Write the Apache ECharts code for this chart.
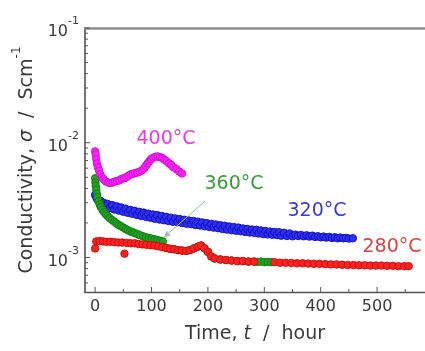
<!DOCTYPE html>
<html>
<head>
<meta charset="utf-8">
<script src="https://cdn.jsdelivr.net/npm/echarts@6/dist/echarts.min.js"></script>
<style>
  html, body { margin: 0; padding: 0; background: #ffffff; }
  #chart { width: 425px; height: 351px; }
</style>
</head>
<body>
<div id="chart"></div>
<script>
// Conductivity vs. time at four temperatures (values in 10^-3 S/cm)
const hours400 = [0, 1, 2, 3, 5, 7, 9, 12, 15, 19, 23, 27, 31, 35, 39, 43, 47, 51, 55, 59, 63, 67, 71, 75, 79, 83, 87, 90, 93, 96, 99, 103, 107, 111, 115, 119, 123, 127, 131, 135, 139, 144, 149, 154];
const sigma400 = [8.4, 7.9, 7.2, 6.6, 6.1, 5.7, 5.3, 5.0, 4.8, 4.6, 4.5, 4.45, 4.5, 4.6, 4.65, 4.7, 4.85, 4.9, 5.0, 5.15, 5.3, 5.35, 5.45, 5.5, 5.6, 5.75, 6.0, 6.3, 6.6, 6.9, 7.2, 7.4, 7.55, 7.6, 7.5, 7.35, 7.1, 6.9, 6.6, 6.4, 6.1, 5.9, 5.6, 5.4];

const hours360 = [0, 0.5, 1, 2, 3, 4, 6, 8, 10, 13, 16, 19, 22, 26, 30, 34, 38, 42, 46, 50, 54, 58, 62, 66, 70, 75, 80, 85, 90, 95, 100, 105, 110, 115, 120, 126, 133, 140, 147, 154, 161, 168, 175, 182, 188, 194, 200, 206, 212, 222, 232, 242, 252, 262, 272, 282, 288, 294, 300, 306, 312];
const sigma360 = [4.9, 4.5, 4.2, 3.9, 3.6, 3.35, 3.1, 2.9, 2.75, 2.6, 2.48, 2.38, 2.3, 2.2, 2.12, 2.05, 1.98, 1.92, 1.87, 1.82, 1.77, 1.73, 1.69, 1.66, 1.63, 1.6, 1.56, 1.53, 1.5, 1.48, 1.46, 1.44, 1.42, 1.4, 1.38, 1.21, 1.19, 1.18, 1.16, 1.15, 1.14, 1.16, 1.2, 1.24, 1.27, 1.2, 1.12, 1.02, 0.98, 0.96, 0.95, 0.94, 0.93, 0.93, 0.92, 0.92, 0.915, 0.92, 0.91, 0.915, 0.91];

const hours320 = [0, 2, 4, 6, 9, 12, 15, 18, 22, 26, 30, 34, 38, 42, 46, 50, 54, 58, 62, 66, 70, 74, 78, 82, 86, 90, 94, 98, 102, 106, 110, 114, 118, 122, 126, 130, 134, 138, 142, 146, 150, 154, 158, 162, 166, 170, 174, 178, 182, 186, 190, 194, 198, 202, 206, 210, 214, 218, 222, 226, 230, 234, 238, 242, 246, 250, 254, 258, 262, 266, 270, 274, 278, 282, 286, 290, 294, 298, 302, 306, 310, 314, 318, 322, 326, 330, 335, 340, 345, 350, 355, 360, 365, 370, 375, 380, 385, 390, 395, 400, 405, 410, 415, 420, 425, 430, 435, 440, 445, 450, 457];
const sigma320 = [3.5, 3.35, 3.2, 3.1, 3.12, 2.84, 3.0, 2.76, 2.93, 2.69, 2.86, 2.62, 2.79, 2.56, 2.73, 2.5, 2.66, 2.45, 2.6, 2.4, 2.55, 2.35, 2.5, 2.3, 2.46, 2.26, 2.41, 2.22, 2.37, 2.18, 2.34, 2.14, 2.3, 2.11, 2.26, 2.08, 2.22, 2.05, 2.19, 2.03, 2.16, 2.0, 2.13, 1.97, 2.1, 1.95, 2.08, 1.92, 2.05, 1.9, 2.02, 1.87, 1.99, 1.85, 1.96, 1.82, 1.94, 1.8, 1.91, 1.77, 1.89, 1.75, 1.86, 1.73, 1.84, 1.71, 1.82, 1.69, 1.79, 1.67, 1.77, 1.65, 1.75, 1.64, 1.74, 1.62, 1.72, 1.6, 1.7, 1.59, 1.68, 1.58, 1.67, 1.57, 1.66, 1.55, 1.64, 1.54, 1.62, 1.53, 1.58, 1.54, 1.57, 1.53, 1.56, 1.52, 1.55, 1.51, 1.53, 1.5, 1.52, 1.49, 1.51, 1.48, 1.5, 1.47, 1.49, 1.47, 1.48, 1.46, 1.47];

const hours280 = [0, 2, 8, 14, 20, 27, 34, 41, 48, 52, 56, 63, 70, 77, 84, 91, 98, 105, 112, 119, 126, 133, 140, 147, 154, 161, 168, 175, 182, 188, 194, 200, 206, 212, 222, 232, 242, 252, 262, 272, 282, 318, 328, 338, 348, 358, 368, 378, 388, 398, 408, 418, 428, 438, 448, 458, 468, 478, 488, 498, 508, 518, 528, 538, 548, 556];
const sigma280 = [1.2, 1.38, 1.39, 1.38, 1.37, 1.37, 1.36, 1.35, 1.35, 1.08, 1.34, 1.33, 1.33, 1.31, 1.3, 1.29, 1.28, 1.27, 1.25, 1.23, 1.21, 1.19, 1.18, 1.16, 1.15, 1.14, 1.16, 1.2, 1.24, 1.27, 1.2, 1.12, 1.02, 0.98, 0.96, 0.95, 0.94, 0.93, 0.93, 0.92, 0.92, 0.91, 0.9, 0.9, 0.895, 0.89, 0.89, 0.885, 0.88, 0.88, 0.875, 0.87, 0.87, 0.865, 0.86, 0.86, 0.855, 0.855, 0.85, 0.85, 0.85, 0.845, 0.845, 0.84, 0.84, 0.84];

// axis ticks
const xMajorTicks = [0, 100, 200, 300, 400, 500];
const xMinorTicks = [50, 150, 250, 350, 450, 550];
const yMajorTicks = [0.001, 0.01, 0.1];
const yMinorTicks = [0.0006, 0.0007, 0.0008, 0.0009, 0.002, 0.003, 0.004, 0.005, 0.006, 0.007, 0.008, 0.009, 0.02, 0.03, 0.04, 0.05, 0.06, 0.07, 0.08, 0.09];

const FONT = "'DejaVu Sans', sans-serif";
const TXT = '#3a3a3a';
const TICK = '#555555';
const X_MIN = -18, X_MAX = 585, Y_MIN = 0.0005, Y_MAX = 0.1;

function pairs(hours, milli) {
  return hours.map((h, i) => [h, milli[i] * 1e-3]);
}

function dotSeries(name, hours, milli, fill, edge) {
  return {
    name: name,
    type: 'scatter',
    xAxisIndex: 0,
    yAxisIndex: 0,
    symbol: 'circle',
    symbolSize: 7.5,
    itemStyle: { color: fill, borderColor: edge, borderWidth: 0.9, opacity: 1 },
    emphasis: { disabled: true },
    data: pairs(hours, milli)
  };
}

// inward tick marks drawn from the axis scales
function yTickSeries(values, len) {
  return {
    type: 'custom', silent: true, clip: false, z: 5,
    xAxisIndex: 0, yAxisIndex: 0,
    encode: { x: 0, y: 1 },
    data: values.map(v => [X_MIN, v]),
    renderItem: function (params, api) {
      const p = api.coord([api.value(0), api.value(1)]);
      return { type: 'line', shape: { x1: p[0], y1: p[1], x2: p[0] + len, y2: p[1] }, style: { stroke: TICK, lineWidth: 1 } };
    }
  };
}
function xTickSeries(values, len) {
  return {
    type: 'custom', silent: true, clip: false, z: 5,
    xAxisIndex: 0, yAxisIndex: 0,
    encode: { x: 0, y: 1 },
    data: values.map(v => [v, Y_MIN]),
    renderItem: function (params, api) {
      const p = api.coord([api.value(0), api.value(1)]);
      return { type: 'line', shape: { x1: p[0], y1: p[1], x2: p[0], y2: p[1] - len }, style: { stroke: TICK, lineWidth: 1 } };
    }
  };
}

const chart = echarts.init(document.getElementById('chart'), null, { renderer: 'canvas' });

const green = dotSeries('360', hours360, sigma360, '#22a322', '#117a11');
green.markLine = {
  silent: true,
  symbol: ['arrow', 'none'],
  symbolSize: [5, 7],
  label: { show: false },
  lineStyle: { color: '#9db59d', width: 1, type: 'solid' },
  data: [[{ coord: [122, 0.00150] }, { coord: [195, 0.00310] }]]
};

chart.setOption({
  animation: false,
  backgroundColor: '#ffffff',
  grid: { left: 85, right: 0, top: 28, bottom: 59, containLabel: false },
  xAxis: [
    {
      type: 'value', min: X_MIN, max: X_MAX, position: 'bottom',
      axisLine: { show: true, onZero: false, lineStyle: { color: '#555555', width: 1.3 } },
      axisTick: { show: false },
      axisLabel: { customValues: xMajorTicks, fontFamily: FONT, fontSize: 16, color: TXT, margin: 7 },
      splitLine: { show: false },
      name: '{n|Time, }{i|t}{n|  /  hour}',
      nameLocation: 'middle',
      nameGap: 33,
      nameTextStyle: {
        rich: {
          n: { fontFamily: FONT, fontSize: 19, color: TXT },
          i: { fontFamily: FONT, fontSize: 19, color: TXT, fontStyle: 'italic' }
        }
      }
    },
    {
      type: 'value', min: X_MIN, max: X_MAX, position: 'top',
      axisLine: { show: true, onZero: false, lineStyle: { color: '#8e8e8e', width: 2.5 } },
      axisTick: { show: false }, axisLabel: { show: false }, splitLine: { show: false }
    }
  ],
  yAxis: [
    {
      type: 'log', logBase: 10, min: Y_MIN, max: Y_MAX, position: 'left',
      axisLine: { show: true, onZero: false, lineStyle: { color: '#666666', width: 1.8 } },
      axisTick: { show: false },
      axisLabel: {
        customValues: yMajorTicks,
        margin: 6,
        formatter: function (v) {
          const e = Math.round(Math.log10(v));
          return '{b|10}{s|' + (e < 0 ? '-' + (-e) : e) + '}';
        },
        rich: {
          b: { fontFamily: FONT, fontSize: 16, color: TXT, lineHeight: 24, verticalAlign: 'bottom' },
          s: { fontFamily: FONT, fontSize: 11, color: TXT, verticalAlign: 'top', lineHeight: 24 }
        }
      },
      splitLine: { show: false },
      name: '{n|Conductivity, }{i|σ}{n|  /  Scm}{s|-1}',
      nameLocation: 'middle',
      nameGap: 46,
      nameTextStyle: {
        rich: {
          n: { fontFamily: FONT, fontSize: 19, color: TXT, lineHeight: 26, verticalAlign: 'bottom' },
          i: { fontFamily: FONT, fontSize: 19, color: TXT, fontStyle: 'italic', lineHeight: 26, verticalAlign: 'bottom' },
          s: { fontFamily: FONT, fontSize: 12, color: TXT, verticalAlign: 'top', lineHeight: 26 }
        }
      }
    }
  ],
  graphic: [
    { type: 'text', x: 166, y: 139, style: { text: '400°C', font: '19px ' + FONT, fill: '#dd40dd', align: 'center', verticalAlign: 'middle' } },
    { type: 'text', x: 234, y: 184, style: { text: '360°C', font: '19px ' + FONT, fill: '#3a9a3a', align: 'center', verticalAlign: 'middle' } },
    { type: 'text', x: 317, y: 211, style: { text: '320°C', font: '19px ' + FONT, fill: '#3a3ac8', align: 'center', verticalAlign: 'middle' } },
    { type: 'text', x: 392, y: 247, style: { text: '280°C', font: '19px ' + FONT, fill: '#d04545', align: 'center', verticalAlign: 'middle' } }
  ],
  series: [
    yTickSeries(yMajorTicks, 5),
    yTickSeries(yMinorTicks, 3),
    xTickSeries(xMajorTicks, 5),
    xTickSeries(xMinorTicks, 3),
    dotSeries('320', hours320, sigma320, '#2e2eff', '#1010a8'),
    green,
    dotSeries('280', hours280, sigma280, '#ff2222', '#c40c0c'),
    dotSeries('400', hours400, sigma400, '#ff22ff', '#cc10cc')
  ]
});
</script>
</body>
</html>
